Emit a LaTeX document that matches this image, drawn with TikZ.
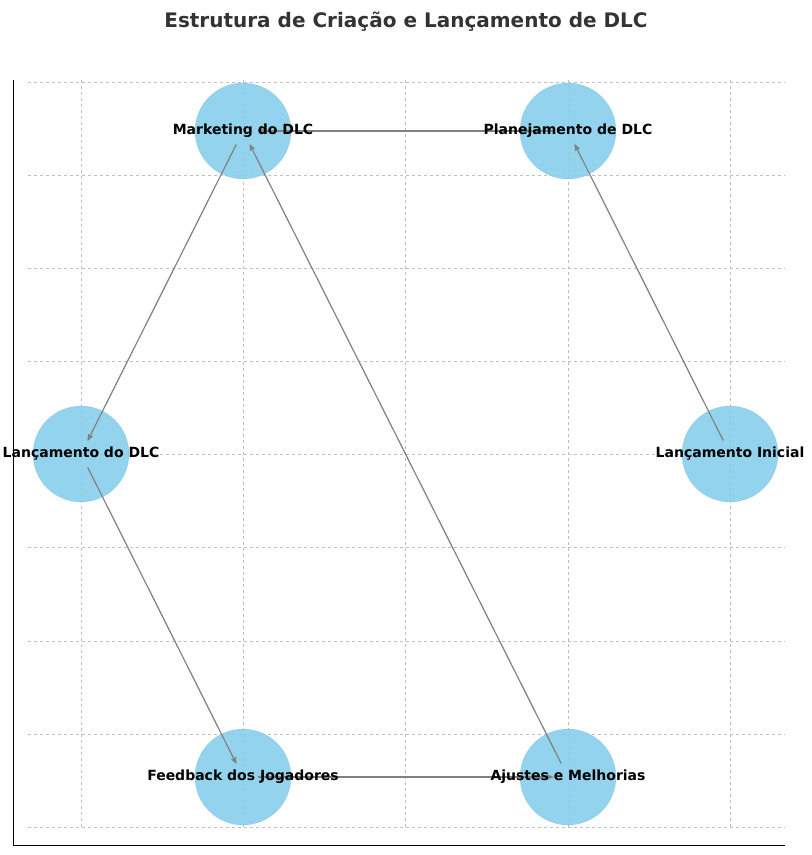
\documentclass[tikz,border=0pt]{standalone}
\usepackage{fontspec}
\setmainfont{DejaVu Sans}
\usetikzlibrary{arrows}
\definecolor{skyblue}{RGB}{135,206,235}

\begin{document}
\begin{tikzpicture}[
            x = 1pt, y = -1pt,
            > = stealth', % arrow head style
            shorten > = 15pt, % stop inside node
            shorten < = 15pt,
            semithick
        ]

        \tikzset{
            topic/.style = {circle, fill = skyblue, fill opacity = 0.9, draw = skyblue!90!black, draw opacity = 0.3, minimum size = 96pt, inner sep = 0pt},
            caption/.style = {font = \bfseries\fontsize{14}{16}\selectfont, text = black},
            flow/.style = {->, gray, line width = 1.2pt},
            gridline/.style = {gray!50, dashed, thin}
        }

        \useasboundingbox (0,0) rectangle (812,855);
        \clip (0,0) rectangle (812,855);

        % grid
        \foreach \gx in {81,243,405,568,730}
            \draw[gridline] (\gx,65) -- (\gx,845);
        \foreach \gy in {82,175,268,361,454,547,641,734,827}
            \draw[gridline] (13,\gy) -- (800,\gy);
        \draw[line width = 1pt] (13,65) -- (13,845) -- (800,845);

        % title
        \node[font = \bfseries\fontsize{20}{24}\selectfont, text = black!80] (title) at (406,22) {Estrutura de Criação e Lançamento de DLC};

        % nodes
        \node[topic] (mkt) at (243,131) {};
        \node[topic] (plan) at (568,131) {};
        \node[topic] (lanc) at (81,454) {};
        \node[topic] (ini) at (730,454) {};
        \node[topic] (feed) at (243,777) {};
        \node[topic] (ajus) at (568,777) {};

        % edges
        \draw[flow] (ini.center) -- (plan.center);
        \draw[flow] (plan.center) -- (mkt.center);
        \draw[flow] (mkt.center) -- (lanc.center);
        \draw[flow] (lanc.center) -- (feed.center);
        \draw[flow] (feed.center) -- (ajus.center);
        \draw[flow] (ajus.center) -- (mkt.center);

        % labels
        \node[caption] at (mkt) {Marketing do DLC};
        \node[caption] at (plan) {Planejamento de DLC};
        \node[caption] at (lanc) {Lançamento do DLC};
        \node[caption] at (ini) {Lançamento Inicial};
        \node[caption] at (feed) {Feedback dos Jogadores};
        \node[caption] at (ajus) {Ajustes e Melhorias};

\end{tikzpicture}
\end{document}
